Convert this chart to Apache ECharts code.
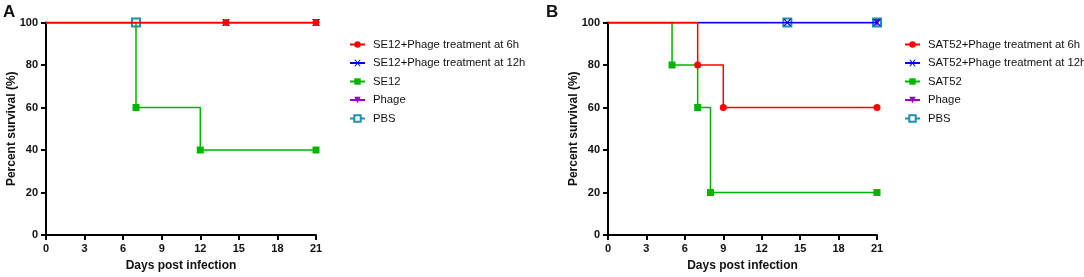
<!DOCTYPE html>
<html>
<head>
<meta charset="utf-8">
<script src="https://cdn.jsdelivr.net/npm/echarts@6/dist/echarts.min.js"></script>
<style>
  html, body { margin: 0; padding: 0; background: #fff; }
  #chart { width: 1084px; height: 277px; }
</style>
</head>
<body>
<div id="chart"></div>
<script>
// x ticks / y ticks
const xTicks = [0, 3, 6, 9, 12, 15, 18, 21];
const yTicks = [0, 20, 40, 60, 80, 100];

// panel A – survival steps [day, percent], plus which points carry a marker
const namesA = ["SE12+Phage treatment at 6h", "SE12+Phage treatment at 12h", "SE12", "Phage", "PBS"];
const a6hDays = [0, 14, 21];
const a6hVals = [100, 100, 100];
const a6hMarks = [0, 1, 1];
const a12hDays = [0, 14, 21];
const a12hVals = [100, 100, 100];
const a12hMarks = [0, 1, 1];
const aSE12Days = [0, 7, 12, 21];
const aSE12Vals = [100, 60, 40, 40];
const aSE12Marks = [0, 1, 1, 1];
const aPhageDays = [0, 21];
const aPhageVals = [100, 100];
const aPhageMarks = [0, 1];
const aPBSDays = [0, 7, 21];
const aPBSVals = [100, 100, 100];
const aPBSMarks = [0, 1, 0];

// panel B
const namesB = ["SAT52+Phage treatment at 6h", "SAT52+Phage treatment at 12h", "SAT52", "Phage", "PBS"];
const b6hDays = [0, 7, 9, 21];
const b6hVals = [100, 80, 60, 60];
const b6hMarks = [0, 1, 1, 1];
const b12hDays = [0, 14, 21];
const b12hVals = [100, 100, 100];
const b12hMarks = [0, 1, 1];
const bSAT52Days = [0, 5, 7, 8, 21];
const bSAT52Vals = [100, 80, 60, 20, 20];
const bSAT52Marks = [0, 1, 1, 1, 1];
const bPhageDays = [0, 21];
const bPhageVals = [100, 100];
const bPhageMarks = [0, 1];
const bPBSDays = [0, 14, 21];
const bPBSVals = [100, 100, 100];
const bPBSMarks = [0, 1, 1];

const colors = ["#ff0000", "#0000ff", "#00b400", "#9900cc", "#1f8fb0"];
const symbols = ["circle", "path://M0,0L2,0L5,3L8,0L10,0L6,4L10,8L8,8L5,5L2,8L0,8L4,4Z", "rect", "triangle", "emptyRect"];
const symbolSizes = [7, 8, 7, 7, 8];
const zOrder = [6, 5, 4, 3, 2];

const font = "Arial, 'Liberation Sans', sans-serif";

function makeData(days, vals, marks) {
  return days.map((d, i) => ({
    value: [d, vals[i]],
    symbol: marks[i] ? undefined : "none"
  }));
}

function makeSeries(names, sets, idx) {
  return sets.map((s, i) => ({
    name: names[i],
    type: "line",
    step: "end",
    xAxisIndex: idx,
    yAxisIndex: idx,
    data: makeData(s[0], s[1], s[2]),
    symbol: symbols[i],
    symbolSize: i === 1 ? [8, 7] : symbolSizes[i],
    symbolRotate: i === 3 ? 180 : 0,
    showAllSymbol: true,
    z: zOrder[i],
    color: colors[i],
    lineStyle: { color: colors[i], width: 1.5 },
    itemStyle: { color: colors[i], borderWidth: i === 4 ? 1.5 : 0, borderColor: colors[i] },
    emphasis: { disabled: true },
    animation: false
  }));
}

const setsA = [
  [a6hDays, a6hVals, a6hMarks],
  [a12hDays, a12hVals, a12hMarks],
  [aSE12Days, aSE12Vals, aSE12Marks],
  [aPhageDays, aPhageVals, aPhageMarks],
  [aPBSDays, aPBSVals, aPBSMarks]
];
const setsB = [
  [b6hDays, b6hVals, b6hMarks],
  [b12hDays, b12hVals, b12hMarks],
  [bSAT52Days, bSAT52Vals, bSAT52Marks],
  [bPhageDays, bPhageVals, bPhageMarks],
  [bPBSDays, bPBSVals, bPBSMarks]
];

function xAxisFor(idx) {
  return {
    type: "value",
    gridIndex: idx,
    min: xTicks[0],
    max: xTicks[xTicks.length - 1],
    interval: 3,
    name: "Days post infection",
    nameLocation: "middle",
    nameGap: 25,
    nameMoveOverlap: false,
    nameTextStyle: { fontFamily: font, fontWeight: "bold", fontSize: 12, color: "#111" },
    axisLine: { lineStyle: { color: "#000", width: 2 } },
    axisTick: { show: true, length: 5, lineStyle: { color: "#000", width: 2 } },
    axisLabel: { fontFamily: font, fontWeight: "bold", fontSize: 11, color: "#111", margin: 8 },
    splitLine: { show: false }
  };
}

function yAxisFor(idx) {
  return {
    type: "value",
    gridIndex: idx,
    min: yTicks[0],
    max: yTicks[yTicks.length - 1],
    interval: 20,
    name: "Percent survival (%)",
    nameLocation: "middle",
    nameGap: 28,
    nameMoveOverlap: false,
    nameTextStyle: { fontFamily: font, fontWeight: "bold", fontSize: 12, color: "#111" },
    axisLine: { show: true, lineStyle: { color: "#000", width: 2 } },
    axisTick: { show: true, length: 5, lineStyle: { color: "#000", width: 2 } },
    axisLabel: { fontFamily: font, fontWeight: "bold", fontSize: 11, color: "#111", margin: 8 },
    splitLine: { show: false }
  };
}

function legendFor(names, left) {
  return {
    data: names,
    orient: "vertical",
    left: left,
    top: 34,
    itemWidth: 15,
    itemHeight: 8,
    itemGap: 7.5,
    selectedMode: false,
    textStyle: { fontFamily: font, fontSize: 11.3, color: "#111", padding: [0, 0, 0, 3] }
  };
}

const chart = echarts.init(document.getElementById("chart"), null, { renderer: "canvas" });

chart.setOption({
  animation: false,
  title: [
    { text: "A", left: 3, top: 4, padding: 0, textStyle: { fontFamily: font, fontWeight: "bold", fontSize: 17, color: "#111" } },
    { text: "B", left: 546, top: 4, padding: 0, textStyle: { fontFamily: font, fontWeight: "bold", fontSize: 17, color: "#111" } }
  ],
  grid: [
    { left: 46, top: 22.5, width: 270, height: 214.5 },
    { left: 608, top: 22.5, width: 269, height: 214.5 }
  ],
  xAxis: [xAxisFor(0), xAxisFor(1)],
  yAxis: [yAxisFor(0), yAxisFor(1)],
  legend: [legendFor(namesA, 344), legendFor(namesB, 899)],
  series: makeSeries(namesA, setsA, 0).concat(makeSeries(namesB, setsB, 1))
});
</script>
</body>
</html>
